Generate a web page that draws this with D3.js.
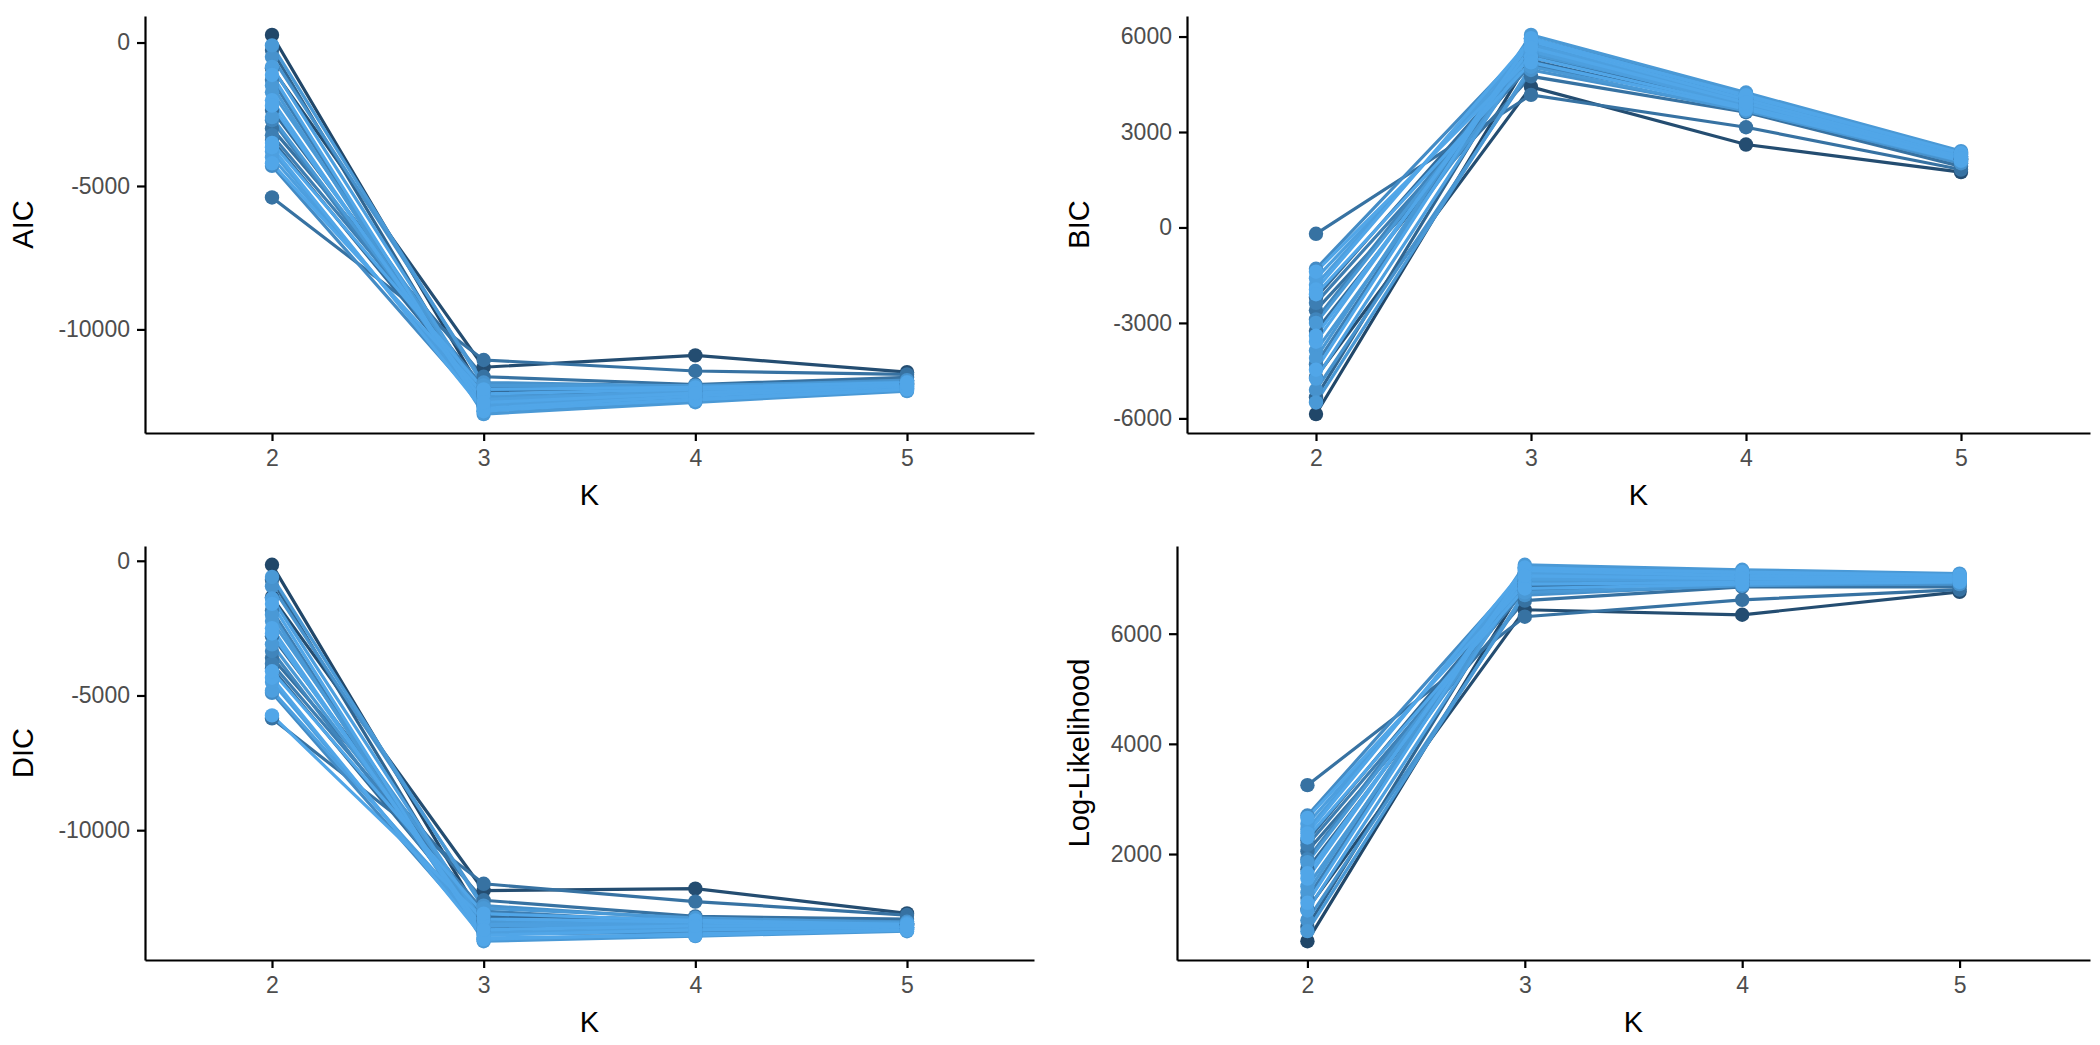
<!DOCTYPE html>
<html>
<head>
<meta charset="utf-8">
<script src="https://cdn.jsdelivr.net/npm/d3@7"></script>
<style>
  body { margin: 0; background: #fff; }
  text { font-family: "Liberation Sans", Arial, sans-serif; }
</style>
</head>
<body>
<svg id="chart" width="2100" height="1045"></svg>
<script>
// number of clusters on the x axis
var kValues = [2, 3, 4, 5];

// colour value of each run (0 = dark, 1 = light)
var runShade = [0.25, 0.3, 0.6, 0.5, 0.95, 1.0, 0.9, 1.0, 0.55, 0.75, 0.7, 1.0, 0.95,
                1.0, 0.85, 0.9, 0.6, 0.95, 0.9, 1.0, 0.8, 1.0, 0.9, 0.7, 0.55];

// one row per run, values at K = 2, 3, 4, 5
var aic = [
  [264, -12250, -12180, -11890], [-900, -11318, -10906, -11490], [-5400, -11066, -11450, -11570],
  [-260, -12650, -12320, -11930], [-850, -12450, -12120, -11970], [-1130, -12850, -12420, -12070],
  [-1730, -12350, -12220, -11870], [-2010, -12750, -12320, -11970], [-2350, -12150, -12020, -11770],
  [-2710, -12550, -12220, -11930], [-3230, -12010, -12120, -11810], [-3650, -12810, -12460, -12090],
  [-4000, -12450, -12180, -11870], [-4210, -12250, -12080, -11970], [-500, -11850, -11980, -11770],
  [-1500, -12950, -12540, -12150], [-3000, -11650, -11920, -11670], [-3800, -12650, -12260, -12030],
  [-2600, -12410, -12340, -11990], [-3500, -12090, -12020, -11850], [-4300, -12690, -12380, -12050],
  [-2200, -12550, -12220, -11910], [-100, -11950, -11960, -11830], [-1300, -12850, -12500, -12110],
  [-3400, -12350, -12060, -11890]
];

var bic = [
  [-5864, 5350, 3880, 2140], [-4700, 4418, 2606, 1740], [-200, 4166, 3150, 1820],
  [-5340, 5750, 4020, 2180], [-4750, 5550, 3820, 2220], [-4470, 5950, 4120, 2320],
  [-3870, 5450, 3920, 2120], [-3590, 5850, 4020, 2220], [-3250, 5250, 3720, 2020],
  [-2890, 5650, 3920, 2180], [-2370, 5110, 3820, 2060], [-1950, 5910, 4160, 2340],
  [-1600, 5550, 3880, 2120], [-1390, 5350, 3780, 2220], [-5100, 4950, 3680, 2020],
  [-4100, 6050, 4240, 2400], [-2600, 4750, 3620, 1920], [-1800, 5750, 3960, 2280],
  [-3000, 5510, 4040, 2240], [-2100, 5190, 3720, 2100], [-1300, 5790, 4080, 2300],
  [-3400, 5650, 3920, 2160], [-5500, 5050, 3660, 2080], [-4300, 5950, 4200, 2360],
  [-2200, 5450, 3760, 2140]
];

var dic = [
  [-150, -13350, -13480, -13490], [-1350, -12240, -12170, -13090], [-5850, -11990, -12650, -13150],
  [-700, -13750, -13600, -13550], [-1400, -13500, -13400, -13600], [-1600, -14050, -13850, -13700],
  [-2240, -13400, -13500, -13450], [-2500, -13900, -13700, -13600], [-2800, -13200, -13300, -13400],
  [-3350, -13650, -13550, -13550], [-3820, -13000, -13450, -13450], [-4340, -14000, -13900, -13700],
  [-4820, -13550, -13500, -13450], [-5740, -13300, -13400, -13600], [-950, -12800, -13300, -13400],
  [-2000, -14120, -13930, -13750], [-3600, -12600, -13200, -13300], [-4500, -13800, -13650, -13650],
  [-3100, -13450, -13700, -13600], [-4100, -13100, -13350, -13500], [-4900, -13850, -13800, -13650],
  [-2700, -13700, -13550, -13550], [-600, -12900, -13250, -13450], [-1850, -14050, -13900, -13700],
  [-4000, -13400, -13400, -13500]
];

var logLik = [
  [418, 6900, 6980, 6960], [1000, 6434, 6343, 6760], [3250, 6308, 6615, 6800],
  [680, 7100, 7050, 6980], [975, 7000, 6950, 7000], [1115, 7200, 7100, 7050],
  [1415, 6950, 7000, 6950], [1555, 7150, 7050, 7000], [1725, 6850, 6900, 6900],
  [1905, 7050, 7000, 6980], [2165, 6780, 6950, 6920], [2375, 7180, 7120, 7060],
  [2550, 7000, 6980, 6950], [2655, 6900, 6930, 7000], [800, 6700, 6880, 6900],
  [1300, 7250, 7160, 7090], [2050, 6600, 6850, 6850], [2450, 7100, 7020, 7030],
  [1850, 6980, 7060, 7010], [2300, 6820, 6900, 6940], [2700, 7120, 7080, 7040],
  [1650, 7050, 7000, 6970], [600, 6750, 6870, 6930], [1200, 7200, 7140, 7070],
  [2250, 6950, 6920, 6960]
];

var aicTicks = [0, -5000, -10000];
var bicTicks = [6000, 3000, 0, -3000, -6000];
var dicTicks = [0, -5000, -10000];
var logLikTicks = [6000, 4000, 2000];

var svg = d3.select("#chart");

// slightly muted top end, the light runs are a touch less bright than #56B1F7
var colour = d3.scaleLinear()
  .domain([0, 1.08])
  .range(["#132B43", "#56B1F7"])
  .interpolate(d3.interpolateLab);

// draw darker runs first so the light ones sit on top
var drawOrder = d3.range(runShade.length).sort(function(a, b) { return runShade[a] - runShade[b]; });

// panel boxes (axis positions)
var panels = [
  {title: "AIC", values: aic, ticks: aicTicks, left: 145, right: 1034, top: 16, bottom: 433, titleX: 33},
  {title: "BIC", values: bic, ticks: bicTicks, left: 1187, right: 2090, top: 16, bottom: 433, titleX: 1089},
  {title: "DIC", values: dic, ticks: dicTicks, left: 145, right: 1034, top: 546, bottom: 960, titleX: 33},
  {title: "Log-Likelihood", values: logLik, ticks: logLikTicks, left: 1177, right: 2090, top: 546, bottom: 960, titleX: 1089}
];

panels.forEach(function(p) {
  var g = svg.append("g");

  // discrete K axis, 0.6 units of padding each side like ggplot
  var x = d3.scaleLinear()
    .domain([kValues[0] - 0.6, kValues[kValues.length - 1] + 0.6])
    .range([p.left, p.right]);

  var all = d3.merge(p.values);
  var lo = d3.min(all), hi = d3.max(all);
  var pad = (hi - lo) * 0.05;
  var y = d3.scaleLinear()
    .domain([lo - pad, hi + pad])
    .range([p.bottom, p.top]);

  var line = d3.line()
    .x(function(d, i) { return x(kValues[i]); })
    .y(function(d) { return y(d); });

  // lines first, then points on top
  g.selectAll("path.run")
    .data(drawOrder)
    .enter()
    .append("path")
    .attr("class", "run")
    .attr("d", function(r) { return line(p.values[r]); })
    .attr("fill", "none")
    .attr("stroke", function(r) { return colour(runShade[r]); })
    .attr("stroke-width", 3.2);

  drawOrder.forEach(function(r) {
    g.selectAll("circle.r" + r)
      .data(p.values[r])
      .enter()
      .append("circle")
      .attr("class", "r" + r)
      .attr("cx", function(d, i) { return x(kValues[i]); })
      .attr("cy", function(d) { return y(d); })
      .attr("r", 7.2)
      .attr("fill", colour(runShade[r]));
  });

  var xAxis = g.append("g")
    .attr("transform", "translate(0," + p.bottom + ")")
    .call(d3.axisBottom(x).tickValues(kValues).tickSizeInner(8).tickSizeOuter(0).tickPadding(9)
      .tickFormat(function(d) { return String(d); }));

  var yAxis = g.append("g")
    .attr("transform", "translate(" + p.left + ",0)")
    .call(d3.axisLeft(y).tickValues(p.ticks).tickSizeInner(8).tickSizeOuter(0).tickPadding(7)
      .tickFormat(function(d) { return String(d); }));

  [xAxis, yAxis].forEach(function(a) {
    a.select(".domain").attr("stroke", "#000").attr("stroke-width", 2.2);
    a.selectAll(".tick line").attr("stroke", "#000").attr("stroke-width", 2.2);
    a.selectAll(".tick text")
      .attr("fill", "#4D4D4D")
      .style("font-size", "23px")
      .style("font-family", "'Liberation Sans', Arial, sans-serif");
  });

  g.append("text")
    .attr("x", (p.left + p.right) / 2)
    .attr("y", p.bottom + 72)
    .attr("text-anchor", "middle")
    .style("font-size", "29px")
    .attr("fill", "#000")
    .text("K");

  g.append("text")
    .attr("transform", "translate(" + p.titleX + "," + (p.top + p.bottom) / 2 + ") rotate(-90)")
    .attr("text-anchor", "middle")
    .style("font-size", "29px")
    .attr("fill", "#000")
    .text(p.title);
});
</script>
</body>
</html>
